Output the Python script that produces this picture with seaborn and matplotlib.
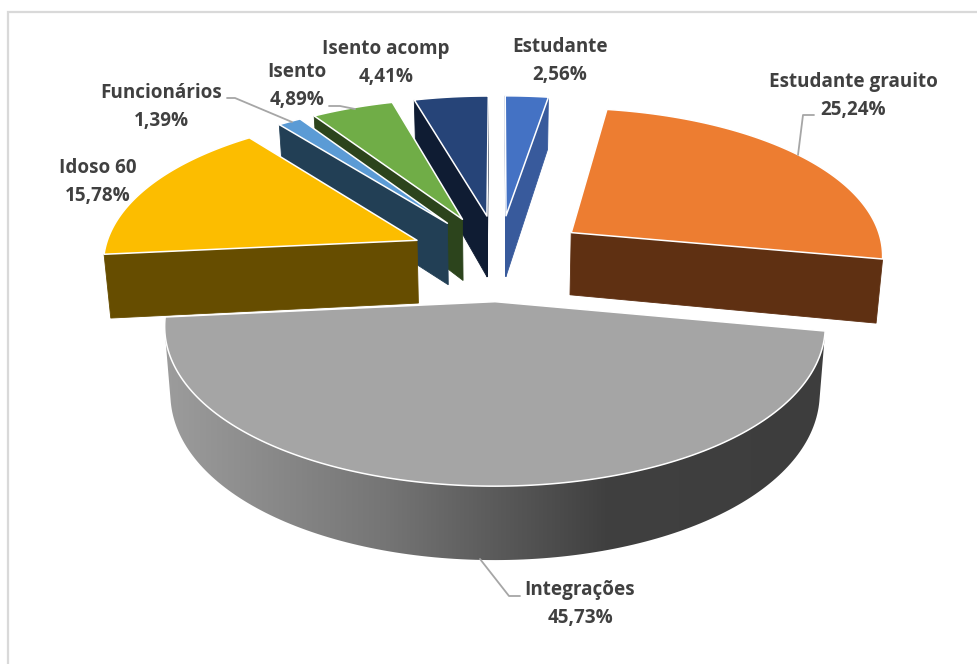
import numpy as np
import seaborn as sns
import matplotlib
matplotlib.use('agg')
import matplotlib.pyplot as plt
from matplotlib.patches import Polygon

categories = ['Estudante', 'Estudante grauito', 'Integrações', 'Idoso 60',
              'Funcionários', 'Isento', 'Isento acomp']
values = [2.56, 25.24, 45.73, 15.78, 1.39, 4.89, 4.41]
top_colors = ['#4472c4', '#ed7d31', '#a5a5a5', '#fcbd00', '#5b9bd5', '#70ad47', '#264478']
side_colors = ['#385a9c', '#5f3012', '#6c6c6c', '#664d00', '#223f55', '#2c441c', '#0f1c33']

# label centres and leader lines, in pixels
label_pos = [(560, 61), (853, 96), (580, 604), (98, 182), (161, 107), (297, 86), (386, 63)]
leaders = {
    'Estudante grauito': [(814, 115), (803, 115), (798, 155)],
    'Integrações': [(520, 596), (509, 596), (480, 559)],
    'Funcionários': [(227, 98), (235, 98), (292, 122)],
    'Isento': [(329, 106), (340, 106), (355, 109)],
}

# projection of the tilted pie onto the image
CX, CY = 499, 257
FOCAL, TILT, DEPTH = 314, 155, 64
PERSP_Y_FAR, PERSP_Y_NEAR = 0.18, 0.105
PERSP_X_FAR, PERSP_X_NEAR = 0.13, 0.14
TAPER = 0.017
EXPLODE_X, EXPLODE_Y = 0.288, 0.28


def project(x, y, z):
    x, y = np.asarray(x, float), np.asarray(y, float)
    sx = 1 / (1 + np.where(y > 0, PERSP_X_FAR, PERSP_X_NEAR) * y)
    sy = 1 / (1 + np.where(y > 0, PERSP_Y_FAR, PERSP_Y_NEAR) * y)
    return np.column_stack([CX + FOCAL * x * sx * (1 + TAPER * z),
                            CY - TILT * y * sy - DEPTH * z * sy])


def area(p):
    x, y = p[:, 0], p[:, 1]
    return np.sum(x * np.roll(y, -1) - np.roll(x, -1) * y)


sns.set_theme(style='white')
plt.rcParams['font.family'] = ['Open Sans', 'DejaVu Sans']

fig = plt.figure(figsize=(9.77, 6.64), dpi=100)
ax = fig.add_axes([0, 0, 1, 1])

ax.plot([8, 8, 977], [664, 12, 12], color='#d9d9d9', lw=1.6, solid_joinstyle='miter')

edges = np.cumsum([0] + values) / 100 * 2 * np.pi
mids = (edges[:-1] + edges[1:]) / 2
side_cmap = sns.blend_palette(['#9c9c9c', '#757575', '#404040', '#3d3d3d'], as_cmap=True)

# far slices first so near ones paint over them
for i in np.argsort(-np.cos(mids)):
    ox, oy = EXPLODE_X * np.sin(mids[i]), EXPLODE_Y * np.cos(mids[i])
    t = np.linspace(edges[i], edges[i + 1], 160)
    rx, ry = ox + np.sin(t), oy + np.cos(t)
    rim_top = project(rx, ry, 0)
    rim_bot = project(rx, ry, -1)
    apex_top = project([ox], [oy], 0)
    apex_bot = project([ox], [oy], -1)

    # outer wall, only the part that faces the viewer
    keep = [j for j in range(len(t) - 1)
            if area(np.vstack([rim_top[j], rim_top[j + 1], rim_bot[j + 1], rim_bot[j]])) < 0]
    if keep:
        ids = keep + [keep[-1] + 1]
        wall = np.vstack([rim_top[ids], rim_bot[ids][::-1]])
        if categories[i] == 'Integrações':
            im = ax.imshow(np.linspace(0, 1, 256)[None, :], cmap=side_cmap, aspect='auto',
                           extent=(wall[:, 0].min(), wall[:, 0].max(), 600, 280), zorder=1)
            im.set_clip_path(Polygon(wall, transform=ax.transData))
        else:
            ax.fill(wall[:, 0], wall[:, 1], color=side_colors[i], lw=0.6)

    # the two cut faces
    start = np.vstack([apex_top, rim_top[0], rim_bot[0], apex_bot])
    end = np.vstack([apex_top, rim_top[-1], rim_bot[-1], apex_bot])
    if area(start) < 0:
        ax.fill(start[:, 0], start[:, 1], color=side_colors[i], lw=0.6)
    if area(end) > 0:
        ax.fill(end[:, 0], end[:, 1], color=side_colors[i], lw=0.6)

    top = np.vstack([apex_top, rim_top])
    ax.fill(top[:, 0], top[:, 1], facecolor=top_colors[i], edgecolor='white', lw=1.1,
            joinstyle='round')

for name, pts in leaders.items():
    xs, ys = zip(*pts)
    ax.plot(xs, ys, color='#a6a6a6', lw=1.3)

for name, val, (x, y) in zip(categories, values, label_pos):
    txt = name + '\n' + f'{val:.2f}'.replace('.', ',') + '%'
    ax.text(x, y, txt, ha='center', va='center', ma='center', fontsize=13.6,
            fontweight='bold', color='#404040', linespacing=1.55)

ax.set_xlim(0, 977)
ax.set_ylim(664, 0)
ax.axis('off')

plt.savefig('out.png', dpi=100)
plt.close()
